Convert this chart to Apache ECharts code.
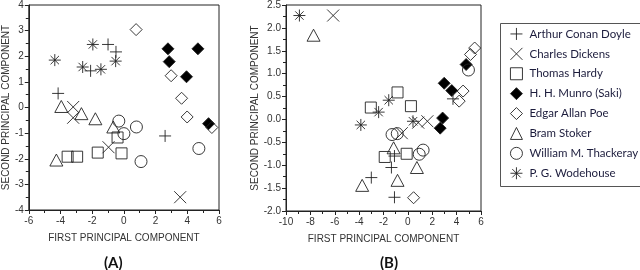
<!DOCTYPE html>
<html><head><meta charset="utf-8">
<script src="https://cdn.jsdelivr.net/npm/echarts@6/dist/echarts.min.js"></script>
<style>html,body{margin:0;padding:0;background:#fff}#c{width:640px;height:270px}</style>
</head><body><div id="c"></div>
<script>
// ---- data ----
const authors = ["Arthur Conan Doyle","Charles Dickens","Thomas Hardy","H. H. Munro (Saki)","Edgar Allan Poe","Bram Stoker","William M. Thackeray","P. G. Wodehouse"];
// Panel A
const doyleA   = [[-1.0,2.46],[-0.5,2.17],[-2.1,1.43],[-4.15,0.55],[2.6,-1.11]];
const dickensA = [[-3.2,0.02],[-3.2,-0.4],[-0.97,-1.55],[3.55,-3.5]];
const hardyA   = [[-3.55,-1.92],[-2.95,-1.92],[-1.65,-1.76],[-0.15,-1.79],[-0.4,-1.17]];
const sakiA    = [[2.78,2.29],[4.67,2.29],[2.86,1.79],[3.95,1.2],[5.34,-0.63]];
const poeA     = [[0.77,3.04],[2.98,1.24],[3.64,0.36],[3.99,-0.37],[5.55,-0.78]];
const stokerA  = [[-3.95,0.04],[-2.68,-0.24],[-1.8,-0.44],[-0.67,-0.76],[-4.26,-2.05]];
const thackA   = [[-0.32,-0.53],[0.0,-1.02],[0.79,-0.76],[1.08,-2.11],[4.73,-1.6]];
const wodeA    = [[-4.36,1.85],[-1.96,2.46],[-2.6,1.58],[-1.45,1.49],[-0.52,1.81]];
// Panel B
const doyleB   = [[3.7,0.45],[-1.1,-0.8],[-1.35,-1.05],[-3.0,-1.27],[-1.1,-1.7]];
const dickensB = [[-6.13,2.27],[0.85,-0.07],[1.6,-0.04],[-0.5,-0.3]];
const hardyB   = [[-0.85,0.59],[-3.04,0.26],[0.25,0.29],[-1.9,-0.82],[-0.1,-0.75]];
const sakiB    = [[4.78,1.2],[2.98,0.79],[3.6,0.63],[2.85,0.03],[2.65,-0.19]];
const poeB     = [[5.48,1.56],[5.14,1.42],[4.53,0.62],[4.21,0.4],[0.47,-1.71]];
const stokerB  = [[-7.74,1.84],[-1.17,-0.62],[0.74,-1.05],[-3.75,-1.44],[-0.85,-1.33]];
const thackB   = [[4.97,1.08],[-1.3,-0.33],[-0.87,-0.31],[0.93,-0.76],[1.25,-0.67]];
const wodeB    = [[-8.9,2.27],[-1.57,0.42],[-2.4,0.16],[-3.86,-0.12],[0.42,-0.04]];
const axisTitleX = "FIRST PRINCIPAL COMPONENT";
const axisTitleY = "SECOND PRINCIPAL COMPONENT";
const panelLabels = ["(A)","(B)"];

// ---- styling ----
const symbols = [
  'path://M0 5L10 5M5 0L5 10',
  'path://M0 0L10 10M0 10L10 0',
  'rect',
  'diamond',
  'diamond',
  'triangle',
  'circle',
  'path://M0 5L10 5M5 0L5 10M1.5 1.5L8.5 8.5M1.5 8.5L8.5 1.5'
];
const sizes = [12,12,11,12,12,[13,12],12,12];
const filled = [false,false,false,true,false,false,false,false];
const dataA = [doyleA,dickensA,hardyA,sakiA,poeA,stokerA,thackA,wodeA];
const dataB = [doyleB,dickensB,hardyB,sakiB,poeB,stokerB,thackB,wodeB];
const hollow = 'rgba(255,255,255,0)';

const series = [];
[dataA,dataB].forEach((set,gi)=>{
  set.forEach((d,i)=>{
    series.push({
      type:'scatter', name:authors[i], xAxisIndex:gi, yAxisIndex:gi,
      data:d, symbol:symbols[i], symbolSize:sizes[i],
      itemStyle:{color: filled[i] ? '#000' : hollow, borderColor:'#222', borderWidth:0.9, opacity:1},
      emphasis:{disabled:true}, silent:true, z: filled[i]?2:3
    });
  });
});

const tickFont = {fontFamily:'Liberation Sans, Arial, sans-serif', fontSize:10, color:'#333'};
const nameFont = {fontFamily:'Liberation Sans, Arial, sans-serif', fontSize:10, color:'#333'};
function xAx(gi,min,max,interval){
  return {type:'value', gridIndex:gi, min, max, interval,
    axisLine:{onZero:false,lineStyle:{color:'#222'}}, axisTick:{length:4,lineStyle:{color:'#222'}},
    minorTick:{show:true,splitNumber:2,length:3,lineStyle:{color:'#222'}},
    splitLine:{show:false}, axisLabel:Object.assign({margin:6},tickFont),
    name:axisTitleX, nameLocation:'middle', nameGap:23, nameTextStyle:nameFont};
}
function yAx(gi,min,max,interval,fmt,gap){
  return {type:'value', gridIndex:gi, min, max, interval,
    axisLine:{onZero:false,lineStyle:{color:'#222'}}, axisTick:{length:4,lineStyle:{color:'#222'}},
    minorTick:{show:true,splitNumber:2,length:3,lineStyle:{color:'#222'}},
    splitLine:{show:false}, axisLabel:Object.assign({margin:5, formatter:fmt},tickFont),
    name:axisTitleY, nameLocation:'middle', nameGap:gap, nameTextStyle:nameFont};
}

const legendData = authors.map((a,i)=>({
  name:a,
  itemStyle:{color: filled[i] ? '#000' : hollow, borderColor:'#222', borderWidth:0.9}
}));

const chart = echarts.init(document.getElementById('c'),null,{renderer:'canvas'});
chart.setOption({
  animation:false,
  backgroundColor:'#fff',
  grid:[
    {left:25, top:3, width:194, height:207, show:true, borderColor:'#222', borderWidth:1, backgroundColor:'transparent'},
    {left:286, top:3, width:195, height:208, show:true, borderColor:'#222', borderWidth:1, backgroundColor:'transparent'}
  ],
  xAxis:[xAx(0,-6,6,2), xAx(1,-10,6,2)],
  yAxis:[yAx(0,-4,4,1,v=>String(v),14), yAx(1,-2,2.5,0.5,v=>v.toFixed(1),20)],
  legend:{
    orient:'vertical', left:510, top:27.5, itemWidth:12, itemHeight:12, itemGap:7,
    selectedMode:false, padding:0,
    itemStyle:{borderWidth:0.9},
    textStyle:{fontFamily:'Lato, sans-serif', fontSize:11.5, lineHeight:12, color:'#1c1c3c', padding:[0,0,0,2]},
    data:legendData
  },
  graphic:[
    {type:'rect', shape:{x:500.5,y:23.5,width:160,height:163}, style:{fill:'none',stroke:'#555',lineWidth:1}, silent:true},
    {type:'text', left:104, top:256, style:{text:panelLabels[0], font:'bold 15px Lato, sans-serif', fill:'#111'}},
    {type:'text', left:380, top:256, style:{text:panelLabels[1], font:'bold 15px Lato, sans-serif', fill:'#111'}}
  ],
  series
});
</script></body></html>
